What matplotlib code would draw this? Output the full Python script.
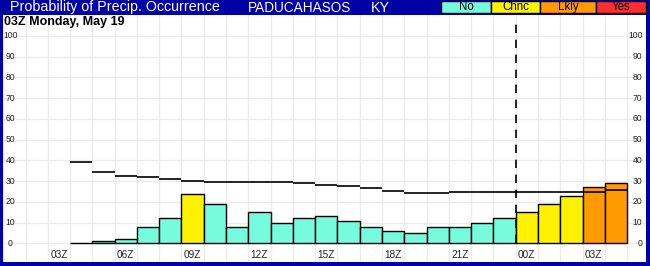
import matplotlib
matplotlib.use("Agg")
import matplotlib.pyplot as plt
from matplotlib.patches import Rectangle
import matplotlib.transforms as mtransforms

# ---- data ----
hours = [4, 5, 6, 7, 8, 9, 10, 11, 12, 13, 14, 15, 16, 17, 18, 19, 20, 21, 22, 23, 24, 25, 26, 27, 28]
pop = [0, 1, 2, 8, 12, 24, 19, 8, 15, 10, 12, 13, 11, 8, 6, 5, 8, 8, 10, 12, 15, 19, 23, 27, 29]
category = ["No", "No", "No", "No", "No", "Chnc", "No", "No", "No", "No", "No", "No", "No",
            "No", "No", "No", "No", "No", "No", "No", "Chnc", "Chnc", "Chnc", "Lkly", "Lkly"]
clim = [39, 34.3, 32.5, 31.9, 30.9, 29.9, 29.5, 29.5, 29.5, 29.5, 29, 28.2, 27.5, 26.6,
        25.1, 24.2, 24.2, 24.6, 24.6, 24.6, 24.6, 24.6, 24.6, 24.6, 25.6]
tick_hours = [3, 6, 9, 12, 15, 18, 21, 24, 27]
tick_labels = ["03Z", "06Z", "09Z", "12Z", "15Z", "18Z", "21Z", "00Z", "03Z"]
ytick_vals = [0, 10, 20, 30, 40, 50, 60, 70, 80, 90, 100]
legend_names = ["No", "Chnc", "Lkly", "Yes"]
cat_colors = {"No": "#76FBDD", "Chnc": "#FFF200", "Lkly": "#FF9A00", "Yes": "#FF2D2D"}
day_break = 23.5

title = "Probability of Precip. Occurrence"
station = "PADUCAHASOS"
state = "KY"
subtitle = "03Z Monday, May 19"

BLUE = "#0000A4"
W, H = 650, 266
fig = plt.figure(figsize=(W / 100, H / 100), dpi=100, facecolor=BLUE)

def px(x0, y0, x1, y1):
    return [x0 / W, 1 - y1 / H, (x1 - x0) / W, (y1 - y0) / H]

ax = fig.add_axes(px(3, 15, 646, 262))
ax.set_facecolor("white")
ax.set_xlim(0.49, 29.35)
ax.set_ylim(-9.0, 110.1)
for s in ax.spines.values():
    s.set_visible(False)
ax.set_xticks([])
ax.set_yticks([])

grid_c = "#EBEBEB"
for k in range(0, 30):
    ax.axvline(k + 0.5, color=grid_c, lw=1.0, zorder=0)
for v in ytick_vals:
    ax.axhline(v, color=grid_c, lw=1.0, zorder=0)

colors = [cat_colors[c] for c in category]
ax.bar(hours, pop, width=1.0, color=colors, edgecolor="black", linewidth=1.0, zorder=2)
ax.hlines(clim, [h - 0.5 for h in hours], [h + 0.5 for h in hours], color="black", lw=1.2, zorder=3)
ax.vlines(day_break, 0, 105.8, color="black", lw=1.2, linestyles=(0, (5, 4)), zorder=4)

tf = "Liberation Sans"
for h, lab in zip(tick_hours, tick_labels):
    ax.text(h, -5.8, lab, ha="center", va="center", fontsize=7.2, family=tf, color="#222222")

bl = mtransforms.blended_transform_factory(ax.transAxes, ax.transData)
for v in ytick_vals:
    ax.text((10.5 - 3) / 643, v, str(v), transform=bl, ha="center", va="center",
            fontsize=6.2, family=tf, color="#222222")
    ax.text((642.5 - 3) / 643, v, str(v), transform=bl, ha="right", va="center",
            fontsize=6.2, family=tf, color="#222222")

ax.text((4 - 3) / 643, 1 - (22 - 15) / 247, subtitle, transform=ax.transAxes, ha="left", va="center",
        fontsize=9, fontweight="bold", family=tf, color="black")

# title bar
fig.text(10 / W, 1 - 7.5 / H, title, ha="left", va="center", fontsize=10.3, family=tf, color="white")
fig.text(248 / W, 1 - 7.5 / H, station, ha="left", va="center", fontsize=9.8, family=tf, color="white")
fig.text(371 / W, 1 - 7.5 / H, state, ha="left", va="center", fontsize=10.3, family=tf, color="white")

edges = [441, 491, 540, 596, 646]
for i, name in enumerate(legend_names):
    x0, x1 = edges[i], edges[i + 1]
    fig.patches.append(Rectangle((x0 / W, 1 - 13 / H), (x1 - x0) / W, 12 / H,
                                 transform=fig.transFigure, facecolor=cat_colors[name],
                                 edgecolor="black", linewidth=1.0))
    fig.text((x0 + x1) / 2 / W, 1 - 7.3 / H, name, ha="center", va="center",
             fontsize=8.3, family=tf, color="black")

fig.savefig("out.png", dpi=100, facecolor=BLUE)
